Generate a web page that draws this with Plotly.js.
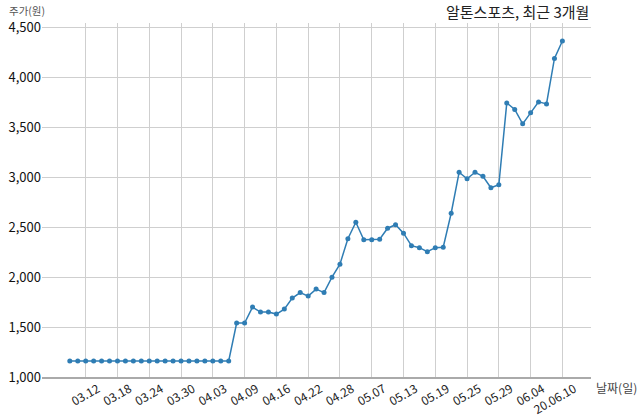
<!DOCTYPE html>
<html>
<head>
<meta charset="utf-8">
<script src="https://cdn.plot.ly/plotly-3.0.1.min.js"></script>
<style>html,body{margin:0;padding:0;background:#fff;}#chart{width:640px;height:419px;}</style>
</head>
<body>
<div id="chart"></div>
<script>
const dates = [
  "03.10","03.11","03.12","03.13","03.16","03.17","03.18","03.19","03.20","03.23",
  "03.24","03.25","03.26","03.27","03.30","03.31","04.01","04.02","04.03","04.06",
  "04.07","04.08","04.09","04.10","04.13","04.14","04.16","04.17","04.20","04.21",
  "04.22","04.23","04.24","04.27","04.28","04.29","05.04","05.06","05.07","05.08",
  "05.11","05.12","05.13","05.14","05.15","05.18","05.19","05.20","05.21","05.22",
  "05.25","05.26","05.27","05.28","05.29","06.01","06.02","06.03","06.04","06.05",
  "06.08","06.09","06.10"
];
const prices = [
  1160,1160,1160,1160,1160,1160,1160,1160,1160,1160,
  1160,1160,1160,1160,1160,1160,1160,1160,1160,1160,
  1160,1540,1540,1700,1650,1650,1630,1680,1790,1845,
  1810,1880,1845,2000,2130,2385,2550,2375,2375,2380,
  2490,2525,2440,2315,2295,2255,2295,2300,2640,3050,
  2985,3050,3010,2895,2925,3745,3680,3535,3645,3755,
  3735,4190,4365
];
const tickDates = ["03.12","03.18","03.24","03.30","04.03","04.09","04.16","04.22","04.28","05.07","05.13","05.19","05.25","05.29","06.04","06.10"];
const tickLabels = ["03.12","03.18","03.24","03.30","04.03","04.09","04.16","04.22","04.28","05.07","05.13","05.19","05.25","05.29","06.04","20.06.10"];
const yTicks = [1000,1500,2000,2500,3000,3500,4000,4500];

const FONT = "Noto Sans CJK KR, Noto Sans, sans-serif";
const trace = {
  x: dates, y: prices, type: "scatter", mode: "lines+markers",
  line: {color: "#2f7db4", width: 1.5},
  marker: {color: "#2f7db4", size: 5},
  hoverinfo: "skip"
};
const layout = {
  width: 640, height: 419,
  margin: {l: 42, r: 49, t: 23, b: 42},
  paper_bgcolor: "#fff", plot_bgcolor: "#fff",
  font: {family: FONT, color: "#222"},
  showlegend: false,
  xaxis: {
    type: "category",
    range: [-3.5, 65.6],
    tickmode: "array", tickvals: tickDates, ticktext: tickLabels,
    tickangle: -30,
    ticklabelshift: 12,
    ticklabelstandoff: -1,
    tickfont: {size: 12, color: "#222"},
    showgrid: true, gridcolor: "#cfcfcf", gridwidth: 1,
    showline: true, linecolor: "#aaaaaa", linewidth: 1.5,
    ticks: "", zeroline: false
  },
  yaxis: {
    range: [1000, 4545],
    tickmode: "array", tickvals: yTicks,
    tickformat: ",d",
    tickfont: {size: 13, color: "#111"},
    showgrid: true, gridcolor: "#cfcfcf", gridwidth: 1,
    showline: false, zeroline: false, ticks: "", ticklen: 0
  },
  annotations: [
    {text: "알톤스포츠, 최근 3개월", xref: "paper", yref: "paper", x: 1, y: 1, xanchor: "right", yanchor: "bottom", yshift: -1, showarrow: false, font: {family: FONT, size: 15, color: "#222"}},
    {text: "주가(원)", xref: "paper", yref: "paper", x: 0, y: 1, xanchor: "center", yanchor: "bottom", xshift: -15, yshift: 3, showarrow: false, font: {family: FONT, size: 10.5, color: "#555"}},
    {text: "날짜(일)", xref: "paper", yref: "paper", x: 1, y: 0, xanchor: "left", yanchor: "middle", xshift: 3, yshift: -10, showarrow: false, font: {family: FONT, size: 12, color: "#444"}}
  ]
};
Plotly.newPlot("chart", [trace], layout, {displayModeBar: false, staticPlot: true});
</script>
</body>
</html>
